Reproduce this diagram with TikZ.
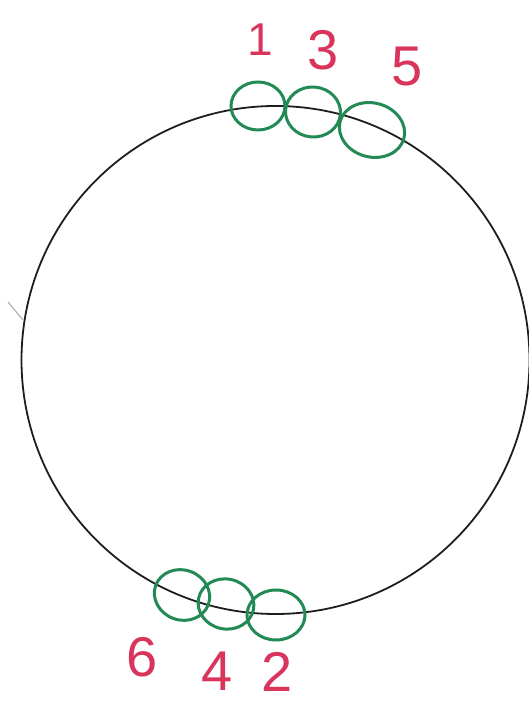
\documentclass[tikz,border=0pt]{standalone}
\usepackage{fontspec}
\setmainfont{Liberation Sans}
\usetikzlibrary{shapes.geometric}
\definecolor{pen}{HTML}{1E1E1E}
\definecolor{grn}{HTML}{238A55}
\definecolor{rd}{HTML}{D8345C}
\tikzset{
  ring/.style={draw=grn, line width=3pt, ellipse, inner sep=0pt},
  num/.style={text=rd, inner sep=0pt, font=\fontsize{56}{56}\selectfont},
}
\begin{document}
\begin{tikzpicture}[x=1pt,y=1pt]
\useasboundingbox (0,0) rectangle (529,703);
\fill[white] (0,0) rectangle (529,703);
% big circle
\draw[pen, line width=1.8pt] (275.5,343) circle[radius=254];
% small tick on the left
\draw[gray!70, line width=1pt] (8,401) -- (23,383);
% top rings
\node[ring, minimum width=54pt, minimum height=48pt] (r1) at (258,597) {};
\node[ring, minimum width=55pt, minimum height=50pt, rotate=-5] (r3) at (313,591) {};
\node[ring, minimum width=66pt, minimum height=54pt, rotate=-15] (r5) at (372,573) {};
% bottom rings
\node[ring, minimum width=56pt, minimum height=50pt, rotate=-20] (r6) at (182,108) {};
\node[ring, minimum width=56pt, minimum height=50pt, rotate=-12] (r4) at (226,99) {};
\node[ring, minimum width=58pt, minimum height=50pt] (r2) at (276,88) {};
% labels
\node[num, font=\fontsize{46}{46}\selectfont] (l1) at (260,663) {1};
\node[num] (l3) at (323,653) {3};
\node[num] (l5) at (407,636) {5};
\node[num] (l6) at (142,46) {6};
\node[num] (l4) at (217,32) {4};
\node[num] (l2) at (277,31) {2};
\end{tikzpicture}
\end{document}
